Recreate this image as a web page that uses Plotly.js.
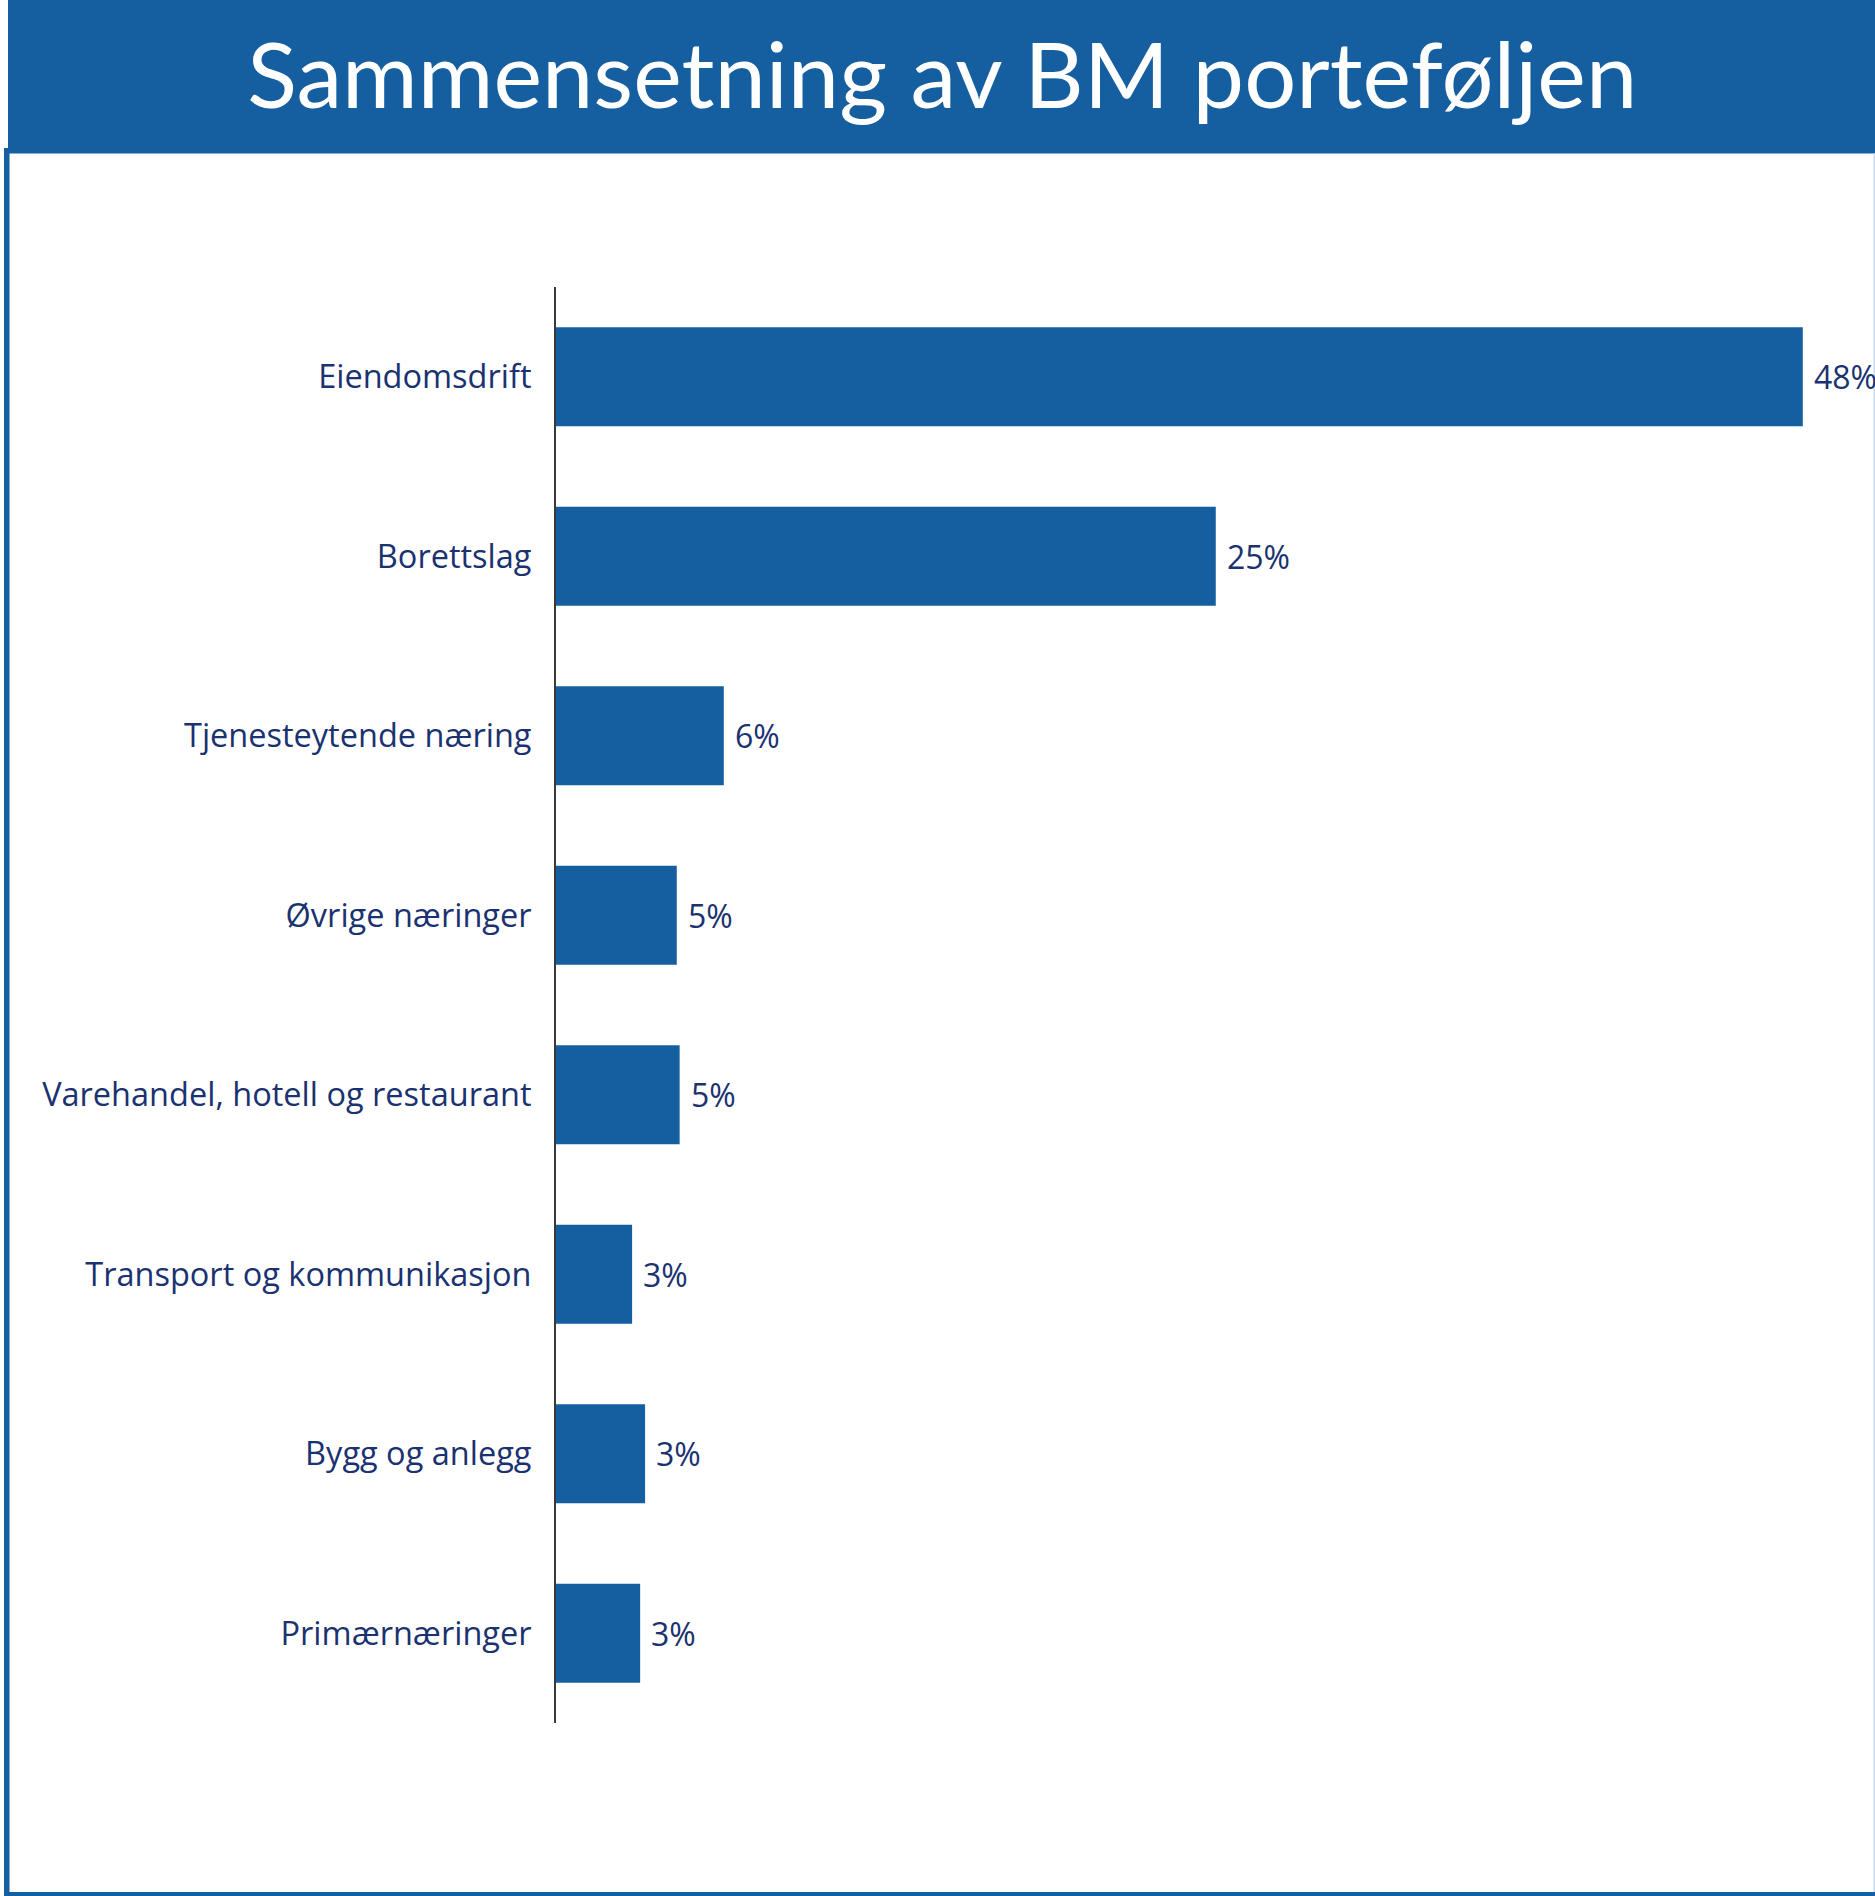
<!DOCTYPE html>
<html>
<head>
<meta charset="utf-8">
<script src="https://cdn.plot.ly/plotly-3.0.1.min.js"></script>
<style>
  html, body { margin: 0; padding: 0; background: #ffffff; }
  #chart { width: 1875px; height: 1896px; }
</style>
</head>
<body>
<div id="chart"></div>
<script>
// ---- Data ----
const categories = [
  "Eiendomsdrift",
  "Borettslag",
  "Tjenesteytende næring",
  "Øvrige næringer",
  "Varehandel, hotell og restaurant",
  "Transport og kommunikasjon",
  "Bygg og anlegg",
  "Primærnæringer"
];
const shares = [48.0, 25.4, 6.46, 4.65, 4.76, 2.93, 3.43, 3.24];
const shareLabels = ["48%", "25%", "6%", "5%", "5%", "3%", "3%", "3%"];
const chartTitle = "Sammensetning av BM porteføljen";

// ---- Layout constants (pixels) ----
const W = 1875, H = 1896;
const L = 556, R = 0, T = 287, B = 173;
const plotW = W - L - R, plotH = H - T - B;
const pxPerUnit = 25.975;
const xMax = plotW / pxPerUnit;

const blue = "#155fa1";
const navy = "#1a3270";
const titleFont = "Lato, 'Open Sans', sans-serif";
const labelFont = "'Open Sans', Lato, sans-serif";

function px(p) { return (p - L) / plotW; }
function py(p) { return (H - B - p) / plotH; }

const trace = {
  type: "bar",
  orientation: "h",
  y: categories,
  x: shares,
  marker: { color: blue, line: { width: 0 } },
  hoverinfo: "skip"
};

const annotations = categories.map((c, i) => ({
  x: shares[i], y: c, xref: "x", yref: "y",
  text: shareLabels[i], showarrow: false,
  xanchor: "left", yanchor: "middle", xshift: 9,
  font: { family: labelFont, size: 32, color: navy }
}));

const shapes = [
  // title band
  { type: "rect", xref: "paper", yref: "paper", layer: "below",
    x0: px(8), x1: px(W + 2), y0: py(153.5), y1: py(-2),
    fillcolor: blue, line: { width: 0 } },
  // left frame
  { type: "rect", xref: "paper", yref: "paper",
    x0: px(4), x1: px(9.5), y0: py(H + 2), y1: py(148),
    fillcolor: blue, line: { width: 0 } },
  // bottom frame
  { type: "rect", xref: "paper", yref: "paper",
    x0: px(4), x1: px(W + 2), y0: py(H + 2), y1: py(1892),
    fillcolor: blue, line: { width: 0 } },
  // right faint edge
  { type: "rect", xref: "paper", yref: "paper",
    x0: px(1873.5), x1: px(W + 2), y0: py(1892), y1: py(153.5),
    fillcolor: "#c9d9ec", line: { width: 0 } }
];

const layout = {
  width: W, height: H,
  margin: { l: L, r: R, t: T, b: B, pad: 0 },
  paper_bgcolor: "#ffffff",
  plot_bgcolor: "#ffffff",
  showlegend: false,
  bargap: 0.4485,
  title: {
    text: chartTitle,
    font: { family: titleFont, size: 92, color: "#ffffff" },
    xref: "container", yref: "container",
    x: 0.5025, xanchor: "center",
    y: 1 - 76 / H, yanchor: "middle"
  },
  xaxis: {
    range: [0, xMax], visible: false, fixedrange: true
  },
  yaxis: {
    type: "category",
    autorange: "reversed",
    showline: true, linecolor: "#3a3a3a", linewidth: 2,
    showgrid: false, zeroline: false,
    ticks: "", ticklabelstandoff: 16,
    tickfont: { family: labelFont, size: 32.5, color: navy },
    fixedrange: true
  },
  shapes: shapes,
  annotations: annotations
};

Plotly.newPlot("chart", [trace], layout, { displayModeBar: false, staticPlot: true });
</script>
</body>
</html>
